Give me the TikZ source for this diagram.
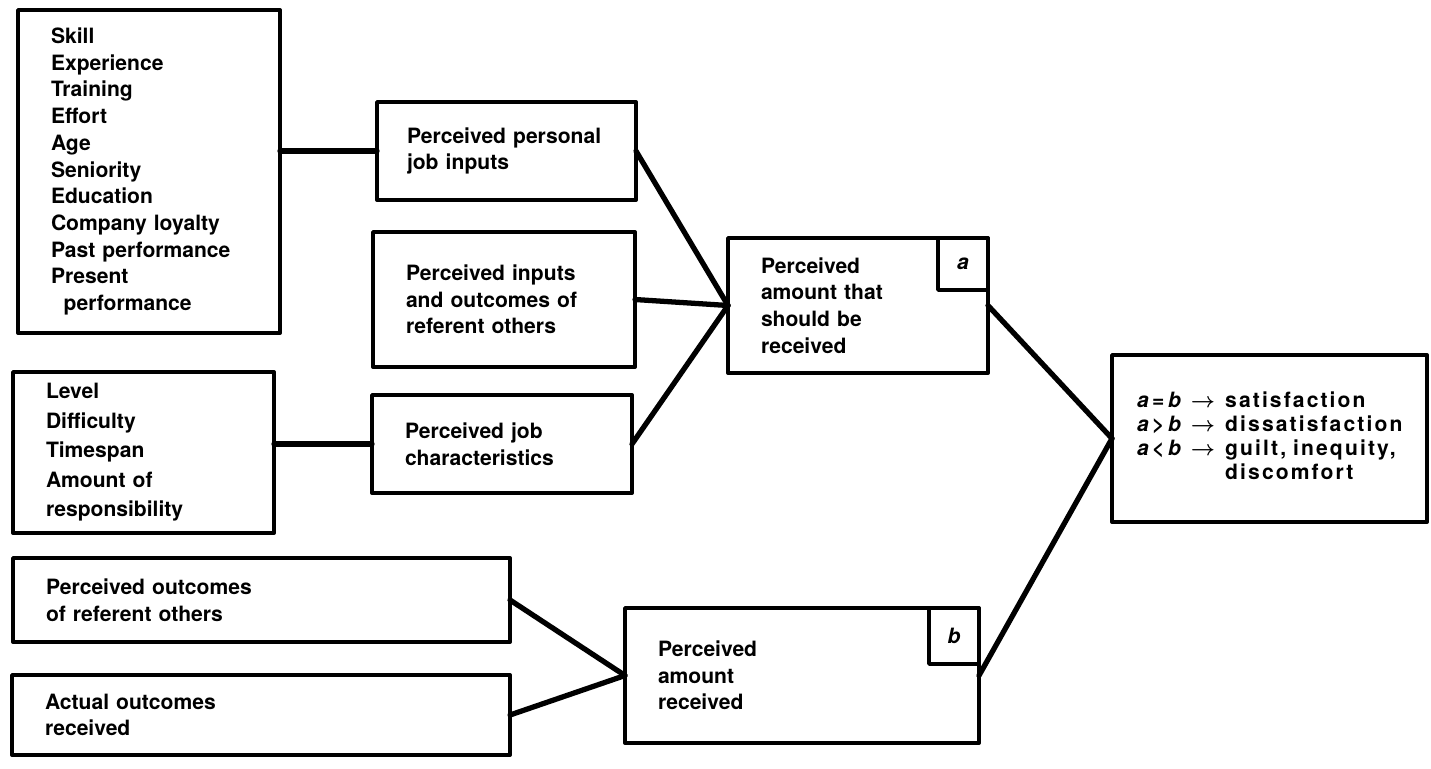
\documentclass[tikz,border=0pt]{standalone}
\usepackage{fontspec}
\usepackage{array}
\setmainfont{TeX Gyre Heros}

\begin{document}
\begin{tikzpicture}[font=\fontsize{12}{15.2}\selectfont\bfseries, line join=round, line cap=round,
    box/.style={draw, line width=2.2pt, anchor=north west, align=left, outer sep=0pt, inner xsep=0.66cm, inner ysep=0pt},
    tag/.style={draw, line width=2pt, anchor=north east, outer sep=0pt, minimum width=1cm, inner sep=0pt, font=\fontsize{12}{15}\selectfont\bfseries\itshape},
    link/.style={line width=3pt}]
    \useasboundingbox (0,0) rectangle (28.62,-15.38);
    %\draw[help lines] (0,0) grid (28,-15);
    \node[box, text width=3.92cm, minimum height=6.46cm] (skills) at (0.36,-0.20)
        {Skill\\Experience\\Training\\Effort\\Age\\Seniority\\Education\\Company loyalty\\Past performance\\Present\\\hspace*{0.6em}performance};
    \node[box, text width=3.90cm, minimum height=3.22cm, font=\fontsize{12}{16.8}\selectfont\bfseries] (level) at (0.26,-7.44)
        {Level\\Difficulty\\Timespan\\Amount of\\responsibility};
    \node[box, text width=8.62cm, minimum height=1.68cm] (outcomes) at (0.26,-11.16)
        {Perceived outcomes\\of referent others};
    \node[box, text width=8.64cm, minimum height=1.60cm] (actual) at (0.24,-13.50)
        {Actual outcomes\\received};
    \node[box, inner xsep=0.6cm, text width=3.98cm, minimum height=1.96cm] (personal) at (7.54,-2.04)
        {Perceived personal\\job inputs};
    \node[box, text width=3.92cm, minimum height=2.70cm] (inputs) at (7.46,-4.64)
        {Perceived inputs\\and outcomes of\\referent others};
    \node[box, text width=3.88cm, minimum height=1.96cm] (jobchar) at (7.44,-7.90)
        {Perceived job\\characteristics};
    \node[box, text width=3.88cm, minimum height=2.70cm] (should) at (14.56,-4.76)
        {Perceived\\amount that\\should be\\received};
    \node[tag, minimum height=1.04cm] (amark) at (should.north east) {a};
    \node[box, text width=5.76cm, minimum height=2.70cm] (got) at (12.50,-12.16)
        {Perceived\\amount\\received};
    \node[tag, minimum height=1.12cm] (bmark) at (got.north east) {b};
    \node[box, inner xsep=0.5cm, text width=5.30cm, minimum height=3.34cm, font=\fontsize{12}{13.6}\selectfont\bfseries] (result) at (22.24,-7.10)
        {\begin{tabular}{@{}l@{\hspace{0.2cm}}l@{\hspace{0.2cm}}>{\addfontfeature{LetterSpace=10}}l@{}}
            \textit{a}\,=\,\textit{b} & {\boldmath$\rightarrow$} & satisfaction\\
            \textit{a}\,>\,\textit{b} & {\boldmath$\rightarrow$} & dissatisfaction\\
            \textit{a}\,<\,\textit{b} & {\boldmath$\rightarrow$} & guilt, inequity,\\
             & & discomfort
        \end{tabular}};
    \draw[link] (personal.west) -- (personal.west -| skills.east);
    \draw[link] (jobchar.west) -- (jobchar.west -| level.east);
    \draw[link] (personal.east) -- (should.west);
    \draw[link] (inputs.east) -- (should.west);
    \draw[link] (jobchar.east) -- (should.west);
    \draw[link] (outcomes.east) -- (got.west);
    \draw[link] (actual.east) -- (got.west);
    \draw[link] (should.east) -- (result.west);
    \draw[link] (got.east) -- (result.west);
\end{tikzpicture}
\end{document}
